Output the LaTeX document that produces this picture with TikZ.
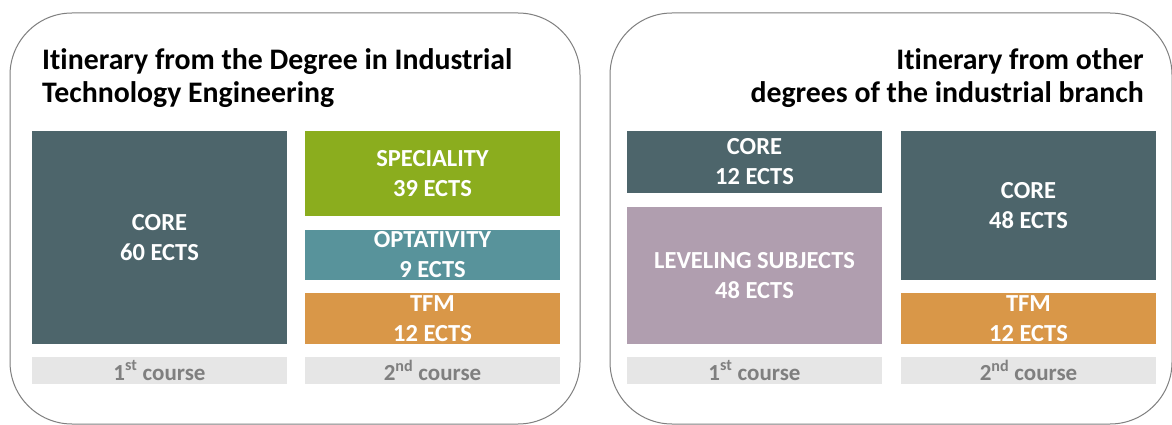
\documentclass[tikz,border=0pt]{standalone}
\usepackage{fontspec}
\setmainfont[Ligatures={NoCommon}]{Carlito}
\definecolor{coreC}{HTML}{4D656B}
\definecolor{specC}{HTML}{8BAD1E}
\definecolor{optC}{HTML}{58939B}
\definecolor{tfmC}{HTML}{D99748}
\definecolor{levC}{HTML}{B09EAF}
\definecolor{courseBg}{HTML}{E6E6E6}
\definecolor{courseTx}{HTML}{7F7F7F}
\definecolor{frameC}{HTML}{7F7F7F}
\begin{document}
\begin{tikzpicture}[x=1pt,y=-1pt,
  panel/.style={draw=frameC, line width=1pt, rounded corners=62pt},
  blk/.style={anchor=north west, inner sep=0pt, outer sep=0pt, align=center, text=white,
    font=\bfseries\fontsize{24.5}{30}\selectfont},
  crs/.style={anchor=north west, inner sep=0pt, outer sep=0pt, fill=courseBg, text=courseTx,
    minimum width=255pt, minimum height=27pt, font=\bfseries\fontsize{23}{24}\selectfont},
  ttl/.style={inner sep=0pt, font=\bfseries\fontsize{29.8}{32.5}\selectfont, text=black}]
\useasboundingbox (0,0) rectangle (1172,425);
\fill[white] (0,0) rectangle (1172,425);
% panels
\draw[panel] (10,13) rectangle (580,424);
\draw[panel] (610,13) rectangle (1172,424);
% titles
\node[ttl, anchor=north west, align=left] (t1) at (42,48.5) {Itinerary from the Degree in Industrial\\Technology Engineering};
\node[ttl, anchor=north east, align=right] (t2) at (1144,48.5) {Itinerary from other\\degrees of the industrial branch};
% left blocks
\node[blk, fill=coreC, minimum width=255pt, minimum height=213pt] (core60) at (32,131) {CORE\\60 ECTS};
\node[blk, fill=specC, minimum width=255pt, minimum height=85pt] (spec) at (305,131) {SPECIALITY\\39 ECTS};
\node[blk, fill=optC, minimum width=255pt, minimum height=50pt] (opt) at (305,230) {OPTATIVITY\\9 ECTS};
\node[blk, fill=tfmC, minimum width=255pt, minimum height=51pt] (tfm1) at (305,293) {TFM\\12 ECTS};
\node[crs] (c1) at (32,357) {1\textsuperscript{st} course};
\node[crs] (c2) at (305,357) {2\textsuperscript{nd} course};
% right blocks
\node[blk, fill=coreC, minimum width=255pt, minimum height=62pt] (core12) at (627,131) {CORE\\12 ECTS};
\node[blk, fill=levC, minimum width=255pt, minimum height=137pt] (lev) at (627,207) {LEVELING SUBJECTS\\48 ECTS};
\node[blk, fill=coreC, minimum width=255pt, minimum height=149pt] (core48) at (901,131) {CORE\\48 ECTS};
\node[blk, fill=tfmC, minimum width=255pt, minimum height=51pt] (tfm2) at (901,293) {TFM\\12 ECTS};
\node[crs] (c3) at (627,357) {1\textsuperscript{st} course};
\node[crs] (c4) at (901,357) {2\textsuperscript{nd} course};
\end{tikzpicture}
\end{document}
